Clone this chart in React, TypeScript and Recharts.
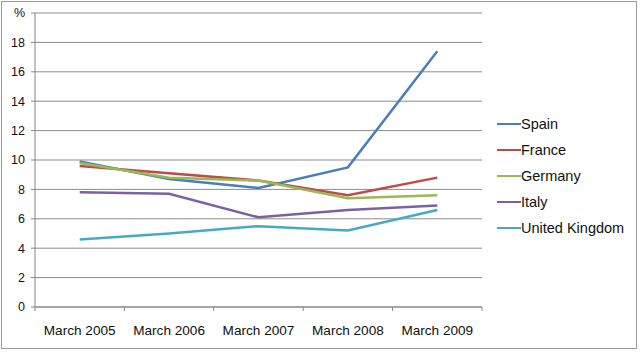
import { LineChart, Line, XAxis, YAxis, CartesianGrid } from "recharts";

const months = ["March 2005", "March 2006", "March 2007", "March 2008", "March 2009"];
const spain = [9.9, 8.7, 8.1, 9.5, 17.4];
const france = [9.6, 9.1, 8.6, 7.6, 8.8];
const germany = [9.8, 8.8, 8.6, 7.4, 7.6];
const italy = [7.8, 7.7, 6.1, 6.6, 6.9];
const uk = [4.6, 5.0, 5.5, 5.2, 6.6];
const yTicks = [0, 2, 4, 6, 8, 10, 12, 14, 16, 18, 20];

const SERIES = [
  { key: "Spain", color: "#4a7ebb" },
  { key: "France", color: "#be4b48" },
  { key: "Germany", color: "#98b954" },
  { key: "Italy", color: "#7d60a0" },
  { key: "United Kingdom", color: "#46aac5" },
];

const data = months.map((m, i) => ({
  month: m,
  Spain: spain[i],
  France: france[i],
  Germany: germany[i],
  Italy: italy[i],
  "United Kingdom": uk[i],
}));

const FONT = "'Liberation Sans', Arial, sans-serif";
const HALF_BAND = 447 / months.length / 2;

const XTick = ({ x, y, payload, index }: any) => (
  <g>
    <line x1={x - HALF_BAND} x2={x - HALF_BAND} y1={y - 8} y2={y - 4} stroke="#868686" />
    {index === months.length - 1 && (
      <line x1={x + HALF_BAND} x2={x + HALF_BAND} y1={y - 8} y2={y - 4} stroke="#868686" />
    )}
    <text x={x} y={y + 20} textAnchor="middle" fontSize={13.6} fill="#111" fontFamily={FONT}>
      {payload.value}
    </text>
  </g>
);

export default function App() {
  return (
    <div style={{ position: "relative", width: 640, height: 353, background: "#fff" }}>
      <style>{"body{margin:0}"}</style>
      <div
        style={{
          position: "absolute",
          left: 1,
          top: 1,
          width: 636,
          height: 348,
          border: "1px solid #9a9a9a",
          boxSizing: "border-box",
        }}
      />
      <LineChart
        width={640}
        height={353}
        data={data}
        margin={{ top: 13, right: 158, bottom: 0, left: 0 }}
      >
        <CartesianGrid vertical={false} stroke="#8c8c8c" />
        <XAxis
          dataKey="month"
          height={46}
          padding={{ left: HALF_BAND, right: HALF_BAND }}
          axisLine={{ stroke: "#868686" }}
          tickLine={false}
          tickSize={4}
          tickMargin={4}
          tick={<XTick />}
          interval={0}
        />
        <YAxis
          width={35}
          domain={[0, 20]}
          ticks={yTicks}
          interval={0}
          axisLine={{ stroke: "#868686" }}
          tickLine={{ stroke: "#868686" }}
          tickSize={4}
          tickMargin={6}
          tickFormatter={(v: number) => (v === 20 ? "%" : String(v))}
          tick={{ fontSize: 12.5, fill: "#111", fontFamily: FONT }}
        />
        {SERIES.map((s) => (
          <Line
            key={s.key}
            dataKey={s.key}
            stroke={s.color}
            strokeWidth={2.5}
            dot={false}
            activeDot={false}
            isAnimationActive={false}
          />
        ))}
      </LineChart>
      {}
      <div style={{ position: "absolute", left: 497, top: 111, fontFamily: FONT, fontSize: 14.5, color: "#111" }}>
        {SERIES.map((s) => (
          <div key={s.key} style={{ display: "flex", alignItems: "center", height: 26 }}>
            <div style={{ width: 24, height: 2.5, background: s.color }} />
            <span>{s.key}</span>
          </div>
        ))}
      </div>
    </div>
  );
}
